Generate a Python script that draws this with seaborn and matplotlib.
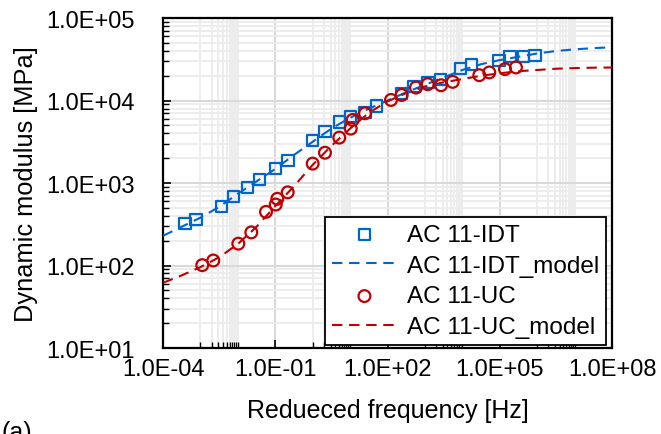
import numpy as np
import pandas as pd
import matplotlib
matplotlib.use("Agg")
import matplotlib.pyplot as plt
import matplotlib.ticker as mticker
import seaborn as sns

# ---------------- data ----------------
idt_freq = [3.87e-4, 7.6e-4, 3.7e-3, 7.6e-3, 1.79e-2, 3.74e-2, 0.103, 0.219,
            1.0, 2.13, 5.14, 10.4, 25.0, 51.4, 239, 511, 1208, 2636,
            9036, 17780, 95280, 187500, 424600, 873000]
idt_mod = [322, 360, 522, 679, 887, 1104, 1493, 1879,
           3289, 4198, 5495, 6383, 7129, 8590, 12246, 14791, 16520, 18113,
           24660, 27040, 30830, 33810, 34200, 34830]

uc_freq = [1.12e-3, 2.21e-3, 1.03e-2, 2.29e-2, 5.66e-2, 0.103, 0.1135, 0.215,
           1.0, 2.13, 5.14, 10.4, 11.7, 25.0, 124, 239, 577, 1186,
           2692, 5521, 28380, 52480, 138000, 271000]
uc_mod = [101, 115, 184, 252, 447, 548, 643, 771,
          1718, 2328, 3548, 4560, 5808, 6998, 10160, 11670, 14350, 15780,
          15310, 16830, 20280, 21880, 23990, 25180]

model_freq = [1e-4, 3.16e-4, 1e-3, 3.16e-3, 1e-2, 3.16e-2, 1e-1, 3.16e-1,
              1e0, 3.16e0, 1e1, 3.16e1, 1e2, 3.16e2, 1e3, 3.16e3, 1e4, 3.16e4,
              1e5, 3.16e5, 1e6, 3.16e6, 1e7, 3.16e7, 1e8]
idt_model = [229, 295, 380, 513, 741, 1047, 1479, 2188, 3162, 4571, 6166, 7943,
             10000, 12590, 15490, 19050, 23440, 27540, 30900, 33880, 37150,
             39810, 41690, 43150, 44160]
uc_model = [61.7, 75.9, 95.5, 126, 182, 295, 525, 912, 1660, 2818, 4571, 7079,
            9772, 12300, 14790, 16600, 18200, 19950, 21380, 22650, 23440,
            24270, 24720, 25000, 25120]

x_major = [1e-4, 1e-1, 1e2, 1e5, 1e8]
y_major = [1e1, 1e2, 1e3, 1e4, 1e5]

labels = ["AC 11-IDT", "AC 11-IDT_model", "AC 11-UC", "AC 11-UC_model"]

# ---------------- style ----------------
plt.rcParams['font.family'] = ['Liberation Sans', 'DejaVu Sans']
FS = 17
FS_LAB = 18
FS_LEG = 17.5
BLUE = "#0066CC"
RED = "#C00000"
DASH = (0, (5, 3.2))

fig, ax = plt.subplots(figsize=(6.61, 4.35), dpi=100)
fig.subplots_adjust(left=0.2466, right=0.9259, top=0.9563, bottom=0.1977)

ax.set_xscale('log')
ax.set_yscale('log')

sns.scatterplot(x=idt_freq, y=idt_mod, marker='s', s=64, color=BLUE,
                facecolor='none', edgecolor=BLUE, linewidth=1.6,
                label=labels[0], ax=ax, zorder=4)
sns.lineplot(x=model_freq, y=idt_model, color=BLUE, linestyle=DASH,
             linewidth=1.5, label=labels[1], ax=ax, sort=False, zorder=3)
sns.scatterplot(x=uc_freq, y=uc_mod, marker='o', s=72, color=RED,
                facecolor='none', edgecolor=RED, linewidth=1.6,
                label=labels[2], ax=ax, zorder=4)
sns.lineplot(x=model_freq, y=uc_model, color=RED, linestyle=DASH,
             linewidth=1.5, label=labels[3], ax=ax, sort=False, zorder=3)

ax.set_xlim(1e-4, 1e8)
ax.set_ylim(1e1, 1e5)

# ticks
ax.xaxis.set_major_locator(mticker.FixedLocator(x_major))
xminor = []
for m in x_major[:-1]:
    xminor += [m * 10 * j for j in range(1, 11)]
ax.xaxis.set_minor_locator(mticker.FixedLocator(xminor))
ax.yaxis.set_major_locator(mticker.FixedLocator(y_major))
ax.yaxis.set_minor_locator(mticker.LogLocator(base=10, subs=np.arange(2, 10)))
fmt = mticker.FuncFormatter(lambda v, p: f"{v:.1E}")
ax.xaxis.set_major_formatter(fmt)
ax.yaxis.set_major_formatter(fmt)
ax.xaxis.set_minor_formatter(mticker.NullFormatter())
ax.yaxis.set_minor_formatter(mticker.NullFormatter())

ax.tick_params(axis='both', which='major', direction='in', length=6, width=1.2,
               labelsize=FS, colors='black')
ax.tick_params(axis='both', which='minor', direction='in', length=4, width=1.0)
ax.tick_params(axis='x', which='major', pad=7)
ax.tick_params(axis='y', which='major', pad=20)

ax.grid(which='major', color='#d9d9d9', linewidth=1.5, zorder=0)
ax.grid(which='minor', color='#ececec', linewidth=1.3, zorder=0)
ax.set_axisbelow(True)

for sp in ax.spines.values():
    sp.set_color('black')
    sp.set_linewidth(1.6)

ax.set_xlabel("Redueced frequency [Hz]", fontsize=FS_LAB, labelpad=13)
ax.set_ylabel("Dynamic modulus [MPa]", fontsize=18.3, labelpad=6)

leg = ax.legend(loc='lower right', bbox_to_anchor=(0.9866, 0.009),
                borderaxespad=0, fontsize=FS_LEG, frameon=True, fancybox=False,
                edgecolor='black', framealpha=1, labelspacing=0.36,
                handlelength=2.7, handletextpad=0.4, borderpad=0.28)
leg.get_frame().set_linewidth(1.3)

fig.text(0.003, 1 - 421 / 435, "(a)", fontsize=FS_LAB, va='top', ha='left')

fig.savefig("out.png", dpi=100)
